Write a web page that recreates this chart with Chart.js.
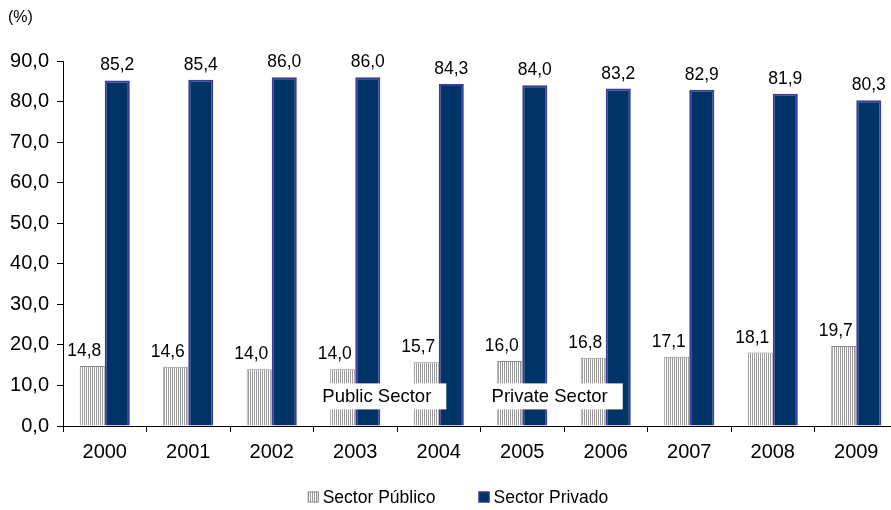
<!DOCTYPE html>
<html>
<head>
<meta charset="utf-8">
<script src="https://cdn.jsdelivr.net/npm/chart.js@4.4.1/dist/chart.umd.min.js"></script>
<style>
  html, body { margin: 0; padding: 0; background: #fff; overflow: hidden; }
  #wrap { width: 898px; height: 510px; position: relative; }
</style>
</head>
<body>
<div id="wrap"><canvas id="sectorChart"></canvas></div>
<script>
// data
const years = ['2000', '2001', '2002', '2003', '2004', '2005', '2006', '2007', '2008', '2009'];
const publicSector = [14.8, 14.6, 14.0, 14.0, 15.7, 16.0, 16.8, 17.1, 18.1, 19.7];
const privateSector = [85.2, 85.4, 86.0, 86.0, 84.3, 84.0, 83.2, 82.9, 81.9, 80.3];
const seriesNames = ['Sector Público', 'Sector Privado'];
const yTicks = [0, 10, 20, 30, 40, 50, 60, 70, 80, 90];
// text boxes over the bars (category index, value)
const notes = [
  { text: 'Public Sector', x: 3.33, y: 7.3 },
  { text: 'Private Sector', x: 5.40, y: 7.3 }
];

const FONT = '"Liberation Sans", Arial, sans-serif';
const fmt = v => v.toFixed(1).replace('.', ',');

// vertical grey stripes
function stripes() {
  const c = document.createElement('canvas');
  c.width = 2; c.height = 2;
  const g = c.getContext('2d');
  g.fillStyle = '#ffffff';
  g.fillRect(0, 0, 2, 2);
  g.fillStyle = '#999999';
  g.fillRect(0, 0, 1, 2);
  return g.createPattern(c, 'repeat');
}

const extras = {
  id: 'extras',
  afterDatasetsDraw(chart) {
    const ctx = chart.ctx;
    ctx.save();
    // value labels (the pale ones sit a bit to the left, as in the original)
    ctx.fillStyle = '#000';
    ctx.font = '17.5px ' + FONT;
    ctx.textAlign = 'center';
    ctx.textBaseline = 'alphabetic';
    chart.data.datasets.forEach((ds, i) => {
      const shift = i === 0 ? -8 : 0;
      chart.getDatasetMeta(i).data.forEach((bar, j) => {
        ctx.fillText(fmt(ds.data[j]), bar.x + shift, bar.y - 10);
      });
    });
    // text boxes
    const xs = chart.scales.x, ys = chart.scales.y;
    ctx.font = '18.5px ' + FONT;
    ctx.textAlign = 'left';
    ctx.textBaseline = 'middle';
    notes.forEach(n => {
      const cx = xs.getPixelForValue(n.x);
      const cy = ys.getPixelForValue(n.y);
      const w = ctx.measureText(n.text).width + 18;
      ctx.fillStyle = '#fff';
      ctx.fillRect(cx - w / 2, cy - 13, w, 26);
      ctx.fillStyle = '#000';
      ctx.fillText(n.text, cx - w / 2 + 3, cy + 1);
    });
    ctx.restore();
  },
  afterDraw(chart) {
    const ctx = chart.ctx;
    ctx.save();
    // unit
    ctx.fillStyle = '#000';
    ctx.font = '16px ' + FONT;
    ctx.textAlign = 'left';
    ctx.textBaseline = 'middle';
    ctx.fillText('(%)', 8, 18);
    // legend
    ctx.font = '17.5px ' + FONT;
    const box = 11, gapText = 4, gapItem = 43;
    const items = chart.data.datasets.map(ds => ({ ds, w: box + gapText + ctx.measureText(ds.label).width }));
    const total = items.reduce((s, it) => s + it.w, 0) + gapItem * (items.length - 1);
    let x = 458 - total / 2;
    const y = 497;
    items.forEach(it => {
      ctx.fillStyle = it.ds.backgroundColor;
      ctx.fillRect(x, y - box / 2, box, box);
      ctx.strokeStyle = it.ds.borderColor;
      ctx.lineWidth = 1;
      ctx.strokeRect(x + 0.5, y - box / 2 + 0.5, box - 1, box - 1);
      ctx.fillStyle = '#000';
      ctx.fillText(it.ds.label, x + box + gapText, y + 1);
      x += it.w + gapItem;
    });
    ctx.restore();
  }
};

new Chart(document.getElementById('sectorChart'), {
  type: 'bar',
  data: {
    labels: years,
    datasets: [
      {
        label: seriesNames[0],
        data: publicSector,
        backgroundColor: stripes(),
        borderColor: '#8c8c8c',
        borderWidth: 1
      },
      {
        label: seriesNames[1],
        data: privateSector,
        backgroundColor: '#003366',
        borderColor: '#3a3aa0',
        borderWidth: 2
      }
    ]
  },
  options: {
    responsive: true,
    maintainAspectRatio: false,
    animation: false,
    datasets: { bar: { categoryPercentage: 0.6, barPercentage: 1.0 } },
    layout: { padding: { top: 61, left: 0, right: 0, bottom: 26 } },
    plugins: {
      legend: { display: false },
      tooltip: { enabled: false }
    },
    scales: {
      x: {
        offset: true,
        grid: { offset: true, drawOnChartArea: false, drawTicks: true, tickLength: 6, color: '#000' },
        border: { display: true, color: '#000', width: 1 },
        ticks: { color: '#000', font: { family: FONT, size: 20 }, padding: 8, maxRotation: 0 },
        afterFit(scale) { scale.height = 58; }
      },
      y: {
        min: 0,
        max: 90,
        afterBuildTicks(scale) { scale.ticks = yTicks.map(v => ({ value: v })); },
        grid: { drawOnChartArea: false, drawTicks: true, tickLength: 6, color: '#000' },
        border: { display: true, color: '#000', width: 1 },
        ticks: { color: '#000', font: { family: FONT, size: 20 }, padding: 8, callback: v => fmt(v) },
        afterFit(scale) { scale.width = 63; }
      }
    }
  },
  plugins: [extras]
});
</script>
</body>
</html>
